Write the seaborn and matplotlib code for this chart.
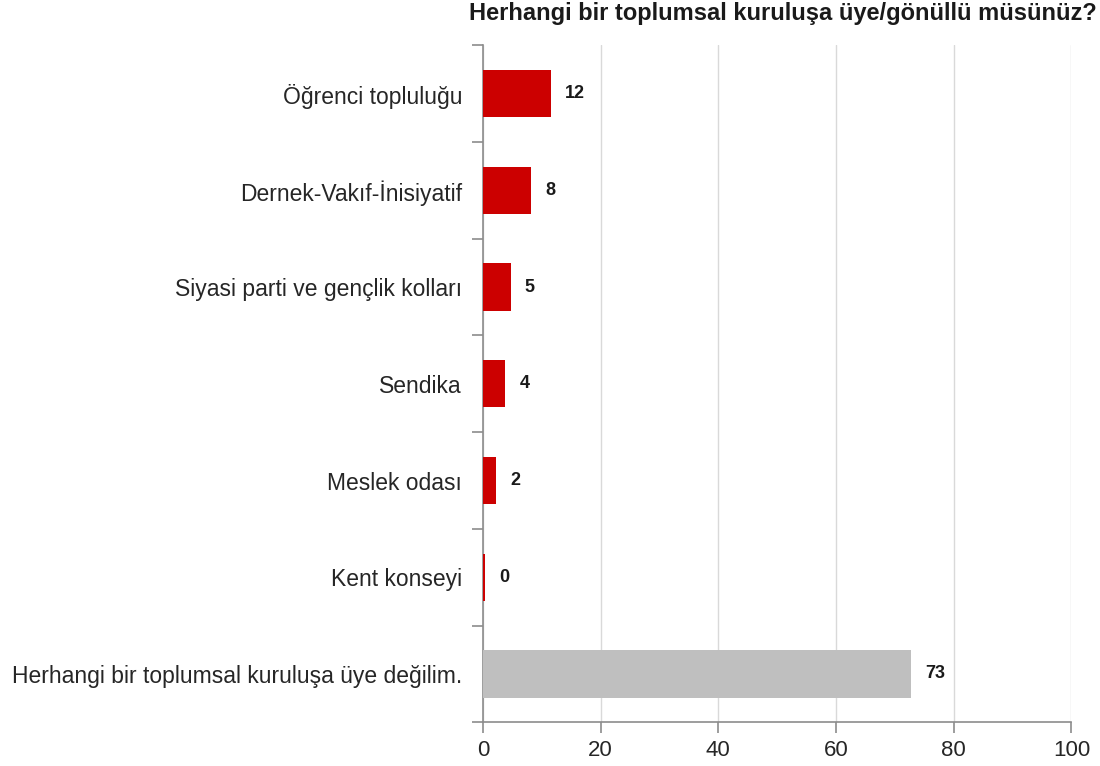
import matplotlib
matplotlib.use("Agg")
import matplotlib.pyplot as plt
import seaborn as sns
import pandas as pd
import numpy as np

# Data
categories = [
    "Öğrenci topluluğu",
    "Dernek-Vakıf-İnisiyatif",
    "Siyasi parti ve gençlik kolları",
    "Sendika",
    "Meslek odası",
    "Kent konseyi",
    "Herhangi bir toplumsal kuruluşa üye değilim.",
]
values = [11.6, 8.2, 4.7, 3.8, 2.3, 0.3, 72.8]
labels = ["12", "8", "5", "4", "2", "0", "73"]
bar_colors = ["#CC0000"] * 6 + ["#BFBFBF"]
title = "Herhangi bir toplumsal kuruluşa üye/gönüllü müsünüz?"

sns.set_style("white")
plt.rcParams["font.family"] = ["Liberation Sans", "DejaVu Sans"]

df = pd.DataFrame({"kategori": categories, "deger": values})

fig = plt.figure(figsize=(11, 7.66), dpi=100)
ax = fig.add_axes([0.439, 0.057, 0.535, 0.884])

sns.barplot(data=df, y="kategori", x="deger", hue="kategori",
            palette=bar_colors, orient="h", width=0.49, legend=False,
            saturation=1, linewidth=0, ax=ax, zorder=3)

ax.set_xlim(0, 100)
ax.set_xticks(np.arange(0, 101, 20))
ax.set_ylim(len(categories) - 0.5, -0.5)
ax.set_xlabel("")
ax.set_ylabel("")

# category labels at bar centres, tick marks on the boundaries
ax.set_yticks(np.arange(len(categories)))
ax.set_yticklabels(categories)
ax.set_yticks(np.arange(-0.5, len(categories)), minor=True)
ax.tick_params(axis="y", which="major", left=False, length=0, pad=15,
               labelsize=16.5, labelcolor="#262626")
ax.tick_params(axis="y", which="minor", left=True, length=8, width=1.2,
               color="#8c8c8c", direction="out")
ax.tick_params(axis="x", bottom=True, length=8, width=1.2, color="#8c8c8c",
               direction="out", labelsize=16, labelcolor="#262626", pad=5)

for side in ["top", "right"]:
    ax.spines[side].set_visible(False)
for side in ["left", "bottom"]:
    ax.spines[side].set_color("#8c8c8c")
    ax.spines[side].set_linewidth(1.2)

ax.xaxis.grid(True, color="#d9d9d9", linewidth=1, zorder=0)
ax.set_axisbelow(True)

for i, (v, lab) in enumerate(zip(values, labels)):
    ax.text(v + 2.4, i, lab, va="center", ha="left", fontsize=13,
            fontweight="bold", color="#1a1a1a")

fig.text(0.997, 0.982, title, ha="right", va="center", fontsize=17,
         fontweight="bold", color="#1a1a1a")

fig.savefig("out.png", dpi=100)
